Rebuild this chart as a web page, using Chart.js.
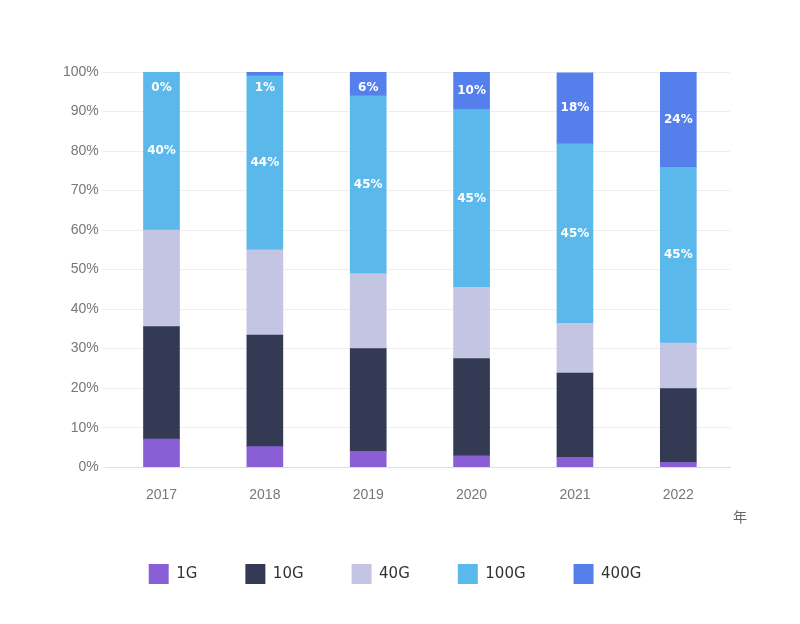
<!DOCTYPE html><html><head><meta charset="utf-8">
<script src="https://cdn.jsdelivr.net/npm/chart.js@4"></script>
<style>body{margin:0;background:#fff}</style></head><body>
<canvas id="c" width="800" height="624"></canvas>
<script>
const years=['2017','2018','2019','2020','2021','2022'];
const g1=[7.1,5.2,4,2.9,2.5,1.2];
const g10=[28.5,28.2,26,24.6,21.3,18.7];
const g40=[24.4,21.6,19,18,12.6,11.5];
const g100=[40,44,45,45,45.4,44.5];
const g400=[0,1,6,9.5,18,24.1];
const yTicks=['0%','10%','20%','30%','40%','50%','60%','70%','80%','90%','100%'];
const labelPlugin={id:'lbl',afterDatasetsDraw(ch){const ctx=ch.ctx;ctx.save();ctx.fillStyle='#fff';ctx.font='bold 12px "DejaVu Sans"';ctx.textAlign='center';ctx.textBaseline='middle';
[3,4].forEach(i=>{ch.getDatasetMeta(i).data.forEach((b,j)=>{const v=ch.data.datasets[i].data[j];let y=(b.y+b.base)/2;ctx.fillText(Math.round(v)+'%',b.x,Math.max(y,88));});});
ctx.fillStyle='#666';ctx.font='14px "Noto Sans CJK SC"';ctx.fillText('年',740,517);ctx.restore();}};
const mk=(l,d,c)=>({label:l,data:d,backgroundColor:c,barThickness:36});
new Chart(document.getElementById('c'),{type:'bar',data:{labels:years,datasets:[mk('1G',g1,'#8a5fd6'),mk('10G',g10,'#343a54'),mk('40G',g40,'#c3c5e2'),mk('100G',g100,'#5bb8ea'),mk('400G',g400,'#5580ec')]},
options:{responsive:false,animation:false,layout:{padding:{left:60,right:70,top:72,bottom:30}},
plugins:{legend:{position:'bottom',labels:{boxWidth:20,boxHeight:20,padding:48,color:'#333',font:{size:15,family:'DejaVu Sans'}}},tooltip:{enabled:false}},
scales:{x:{stacked:true,grid:{display:false},border:{color:'#ddd'},ticks:{color:'#777',font:{size:14},padding:12}},
y:{stacked:true,min:0,max:100,grid:{color:'#eee'},border:{display:false},ticks:{stepSize:10,color:'#777',font:{size:14},callback:(v,i)=>yTicks[i]}}}},plugins:[labelPlugin]});
</script></body></html>
